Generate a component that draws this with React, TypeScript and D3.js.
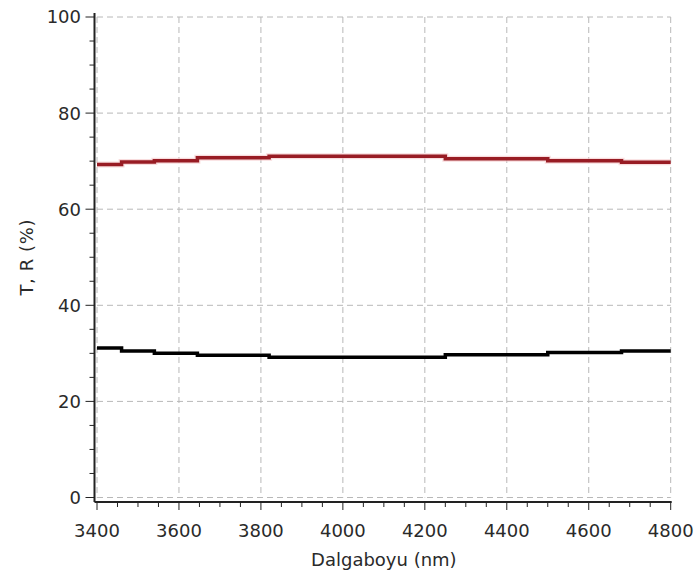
import React from "react";
import * as d3 from "d3";

// Wavelength breakpoints (nm) where the measured curves change level
const breakpoints = [3400, 3460, 3540, 3645, 3820, 4250, 4500, 4680, 4800];
// Level of each curve on the interval starting at the matching breakpoint (%)
const transmittance = [69.3, 69.8, 70.1, 70.7, 71.0, 70.5, 70.1, 69.75];
const reflectance = [31.1, 30.5, 30.0, 29.6, 29.2, 29.7, 30.2, 30.5];

const xTicks = [3400, 3600, 3800, 4000, 4200, 4400, 4600, 4800];
const yTicks = [0, 20, 40, 60, 80, 100];
const xLabel = "Dalgaboyu (nm)";
const yLabel = "T, R (%)";

const W = 694;
const H = 575;
const FONT = "'DejaVu Sans', Verdana, sans-serif";

const x = d3.scaleLinear().domain([3400, 4800]).range([97, 670.7]);
const y = d3.scaleLinear().domain([0, 100]).range([497.5, 17]);

type Pt = [number, number];
function stepPoints(vals: number[]): Pt[] {
  const pts: Pt[] = vals.map((v, i) => [breakpoints[i], v]);
  pts.push([breakpoints[breakpoints.length - 1], vals[vals.length - 1]]);
  return pts;
}

const line = d3
  .line<Pt>()
  .x((d) => x(d[0]))
  .y((d) => y(d[1]))
  .curve(d3.curveStepAfter);

export default function App() {
  const axisX = x(3400) - 2.5;
  const axisY = y(0) + 4.5;
  const xMinor = d3.range(3400, 4800 + 1, 50);
  const yMinor = d3.range(0, 100 + 1, 5);
  const tPath = line(stepPoints(transmittance)) || "";
  const rPath = line(stepPoints(reflectance)) || "";

  return (
    <svg
      width={W}
      height={H}
      style={{ position: "absolute", left: 0, top: 0, background: "#fff" }}
      fontFamily={FONT}
    >
      {/* dashed grid */}
      <g stroke="#b8b8b8" strokeWidth={1} strokeDasharray="6,4" fill="none">
        {xTicks.map((t) => (
          <line key={"gx" + t} x1={x(t)} x2={x(t)} y1={y(100)} y2={y(0)} />
        ))}
        {yTicks.map((t) => (
          <line key={"gy" + t} x1={x(3400)} x2={x(4800)} y1={y(t)} y2={y(t)} />
        ))}
      </g>

      {/* curves */}
      <path d={tPath} fill="none" stroke="#f3c4c6" strokeWidth={6} opacity={0.6} />
      <path d={tPath} fill="none" stroke="#981c24" strokeWidth={3.5} />
      <path d={rPath} fill="none" stroke="#000" strokeWidth={3.5} />

      {/* axes */}
      <g stroke="#222" fill="none">
        <line x1={axisX} x2={axisX} y1={y(100) - 4} y2={axisY} strokeWidth={2} />
        <line x1={axisX} x2={x(4800) + 1} y1={axisY} y2={axisY} strokeWidth={2} />
        {yMinor.map((t) => (
          <line
            key={"ym" + t}
            x1={axisX - (t % 20 === 0 ? 9 : 5)}
            x2={axisX}
            y1={y(t)}
            y2={y(t)}
            strokeWidth={1}
          />
        ))}
        {xMinor.map((t) => (
          <line
            key={"xm" + t}
            x1={x(t)}
            x2={x(t)}
            y1={axisY}
            y2={axisY + (t % 200 === 0 ? 8 : 5)}
            strokeWidth={1}
          />
        ))}
      </g>

      {/* tick labels */}
      <g fill="#2a2a2a" fontSize={18}>
        {yTicks.map((t) => (
          <text key={"ly" + t} x={81} y={y(t)} dy="0.36em" textAnchor="end">
            {t}
          </text>
        ))}
        {xTicks.map((t) => (
          <text key={"lx" + t} x={x(t)} y={537} textAnchor="middle">
            {t}
          </text>
        ))}
      </g>

      {/* axis titles */}
      <text x={(x(3400) + x(4800)) / 2} y={566} textAnchor="middle" fontSize={18} fill="#2a2a2a">
        {xLabel}
      </text>
      <text
        transform={`translate(33, ${(y(0) + y(100)) / 2}) rotate(-90)`}
        textAnchor="middle"
        fontSize={18}
        letterSpacing={0.6}
        fill="#2a2a2a"
      >
        {yLabel}
      </text>
    </svg>
  );
}
